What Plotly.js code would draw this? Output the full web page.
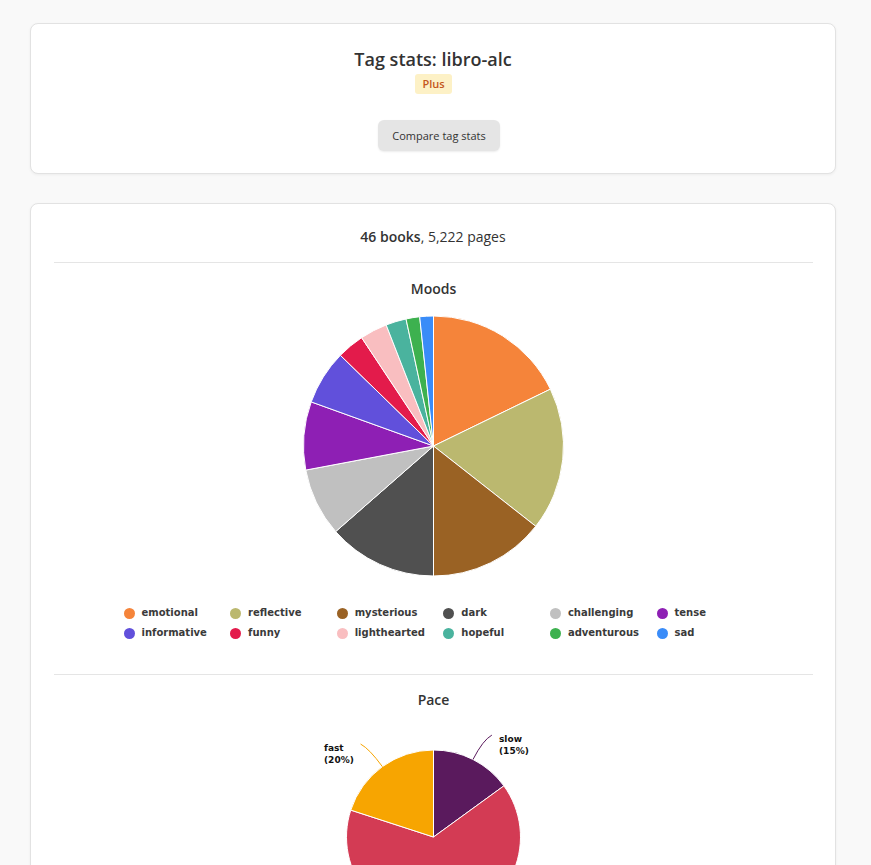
<!DOCTYPE html>
<html>
<head>
<meta charset="utf-8">
<script src="https://cdn.plot.ly/plotly-3.0.1.min.js"></script>
<style>
  html, body { margin: 0; padding: 0; overflow: hidden; background: #f9f9f9; }
  body { width: 871px; height: 865px; position: relative; font-family: "Open Sans", sans-serif; color: #333; }
  .card { position: absolute; left: 30px; width: 806px; box-sizing: border-box; background: #fff;
          border: 1px solid #e2e2e2; border-radius: 8px; box-shadow: 0 1px 3px rgba(0,0,0,0.05); }
  .abs { position: absolute; }
  .center { text-align: center; }
  .hr { position: absolute; left: 54px; width: 759px; height: 1px; background: #e5e5e5; }
  #title { left: 30px; width: 806px; top: 47px; height: 24px; line-height: 24px; font-size: 18px; font-weight: 600; color: #333; }
  #badge { left: 415px; top: 74px; width: 37px; height: 20px; line-height: 20px; font-size: 11px; font-weight: 600;
           color: #c4561c; background: #fdf1c6; border-radius: 3px; }
  #compare { left: 378px; top: 120px; width: 122px; height: 31px; line-height: 31px; font-size: 11px;
             color: #333; background: #e5e5e5; border-radius: 6px; box-shadow: 0 1px 2px rgba(0,0,0,0.08); }
  #stats { left: 30px; width: 806px; top: 226px; height: 22px; line-height: 22px; font-size: 14px; color: #333; }
  #stats b { font-weight: 600; }
  #moods-legend .item { position: absolute; height: 14px; line-height: 14px; font-family: "DejaVu Sans", sans-serif;
                        font-size: 10px; font-weight: bold; color: #3a3a3a; white-space: nowrap; }
  #moods-legend .dot { position: absolute; left: 0; top: 1.5px; width: 11px; height: 11px; border-radius: 50%; }
  #moods-legend .lbl { position: absolute; left: 18px; top: 0; }
  #moods, #pace { position: absolute; left: 54px; width: 759px; }
</style>
</head>
<body>
  <div class="card" style="top:23px;height:151px;"></div>
  <div class="card" style="top:203px;height:800px;"></div>

  <div id="title" class="abs center">Tag stats: libro-alc</div>
  <div id="badge" class="abs center">Plus</div>
  <div id="compare" class="abs center">Compare tag stats</div>

  <div id="stats" class="abs center"><b>46 books</b>, 5,222 pages</div>
  <div class="hr" style="top:262px;"></div>

  <div id="moods" style="top:276px;height:300px;"></div>
  <div id="moods-legend"></div>

  <div class="hr" style="top:674px;"></div>
  <div id="pace" style="top:686px;height:238px;"></div>

<script>
// Mood tag counts across the 46 books
const moodLabels = ["emotional", "reflective", "mysterious", "dark", "challenging", "tense",
                    "informative", "funny", "lighthearted", "hopeful", "adventurous", "sad"];
const moodCounts = [21, 21, 17, 16, 10, 10, 8, 4, 4, 3, 2, 2];
const moodColors = ["#f5843a", "#bbb86f", "#9a6224", "#505050", "#c0c0c0", "#8e1fb4",
                    "#6150db", "#e31b4b", "#f9bec0", "#4ab39e", "#3db14f", "#3a8cf8"];

// Pace split (percent of books)
const paceLabels = ["slow", "medium", "fast"];
const paceValues = [15, 65, 20];
const paceColors = ["#5a1a5d", "#d33b54", "#f7a501"];

const titleFont = { family: "Open Sans", size: 14, color: "#333", weight: 600 };
const config = { displayModeBar: false, staticPlot: true };

// ---- Moods pie ----
const moodsH = 300, moodsTop = 40;
Plotly.newPlot("moods", [{
  type: "pie",
  labels: moodLabels,
  values: moodCounts,
  sort: false,
  direction: "clockwise",
  rotation: 0,
  textinfo: "none",
  hoverinfo: "none",
  showlegend: false,
  marker: { colors: moodColors, line: { color: "#ffffff", width: 1 } }
}], {
  width: 759, height: moodsH,
  margin: { l: 0, r: 0, t: moodsTop, b: 0 },
  paper_bgcolor: "rgba(0,0,0,0)",
  title: { text: "Moods", font: titleFont, x: 0.5, xanchor: "center",
           yref: "container", y: 1 - 13 / moodsH, yanchor: "middle" }
}, config);

// Legend: 6 columns x 2 rows under the moods pie
const legend = document.getElementById("moods-legend");
const legendCols = 6, colStart = 123.5, colStep = 106.6, rowStart = 606, rowStep = 20;
moodLabels.forEach((name, i) => {
  const item = document.createElement("div");
  item.className = "item";
  item.style.left = (colStart + (i % legendCols) * colStep) + "px";
  item.style.top = (rowStart + Math.floor(i / legendCols) * rowStep) + "px";
  const dot = document.createElement("span");
  dot.className = "dot";
  dot.style.background = moodColors[i];
  const lbl = document.createElement("span");
  lbl.className = "lbl";
  lbl.textContent = name;
  item.appendChild(dot);
  item.appendChild(lbl);
  legend.appendChild(item);
});

// ---- Pace pie with curved leader lines to outside labels ----
// Only the slices whose labels sit in the upper half of the pie are labelled here;
// the lower half of the pie runs past the bottom of the page.
const paceW = 759, paceTop = 64, paceR = 87;
const paceTotal = paceValues.reduce((a, b) => a + b, 0);
const shapes = [], annotations = [];
let cum = 0;
paceValues.forEach((v, i) => {
  const mid = (cum + v / 2) / paceTotal * 2 * Math.PI;
  cum += v;
  const s = Math.sin(mid), c = Math.cos(mid);
  if (c <= 0) return;
  const side = s >= 0 ? 1 : -1;
  const cx = paceW / 2, cy = paceR;
  const p0 = [cx + paceR * s, cy - paceR * c];
  const p1 = [cx + paceR * 1.25 * s, cy - paceR * 1.25 * c];
  const p2 = [p1[0] + side * 9, p1[1] - 5];
  const X = px => px / paceW;
  const Y = py => 1 - py / (2 * paceR);
  shapes.push({
    type: "path", xref: "paper", yref: "paper", layer: "above",
    path: `M ${X(p0[0])},${Y(p0[1])} Q ${X(p1[0])},${Y(p1[1])} ${X(p2[0])},${Y(p2[1])}`,
    line: { color: paceColors[i], width: 1 }
  });
  annotations.push({
    xref: "paper", yref: "paper",
    x: X(p2[0] + side * 5), y: Y(p2[1] + 9.5),
    xanchor: side > 0 ? "left" : "right", yanchor: "middle", align: "left",
    showarrow: false,
    text: `${paceLabels[i]}<br>(${Math.round(v / paceTotal * 100)}%)`,
    font: { family: "DejaVu Sans", size: 9, color: "#111", weight: "bold" }
  });
});

Plotly.newPlot("pace", [{
  type: "pie",
  labels: paceLabels,
  values: paceValues,
  sort: false,
  direction: "clockwise",
  rotation: 0,
  textinfo: "none",
  hoverinfo: "none",
  showlegend: false,
  marker: { colors: paceColors, line: { color: "#ffffff", width: 1 } }
}], {
  width: paceW, height: paceTop + 2 * paceR,
  margin: { l: 0, r: 0, t: paceTop, b: 0 },
  paper_bgcolor: "rgba(0,0,0,0)",
  shapes: shapes,
  annotations: annotations,
  title: { text: "Pace", font: titleFont, x: 0.5, xanchor: "center",
           yref: "container", y: 1 - 14 / (paceTop + 2 * paceR), yanchor: "middle" }
}, config);
</script>
</body>
</html>
